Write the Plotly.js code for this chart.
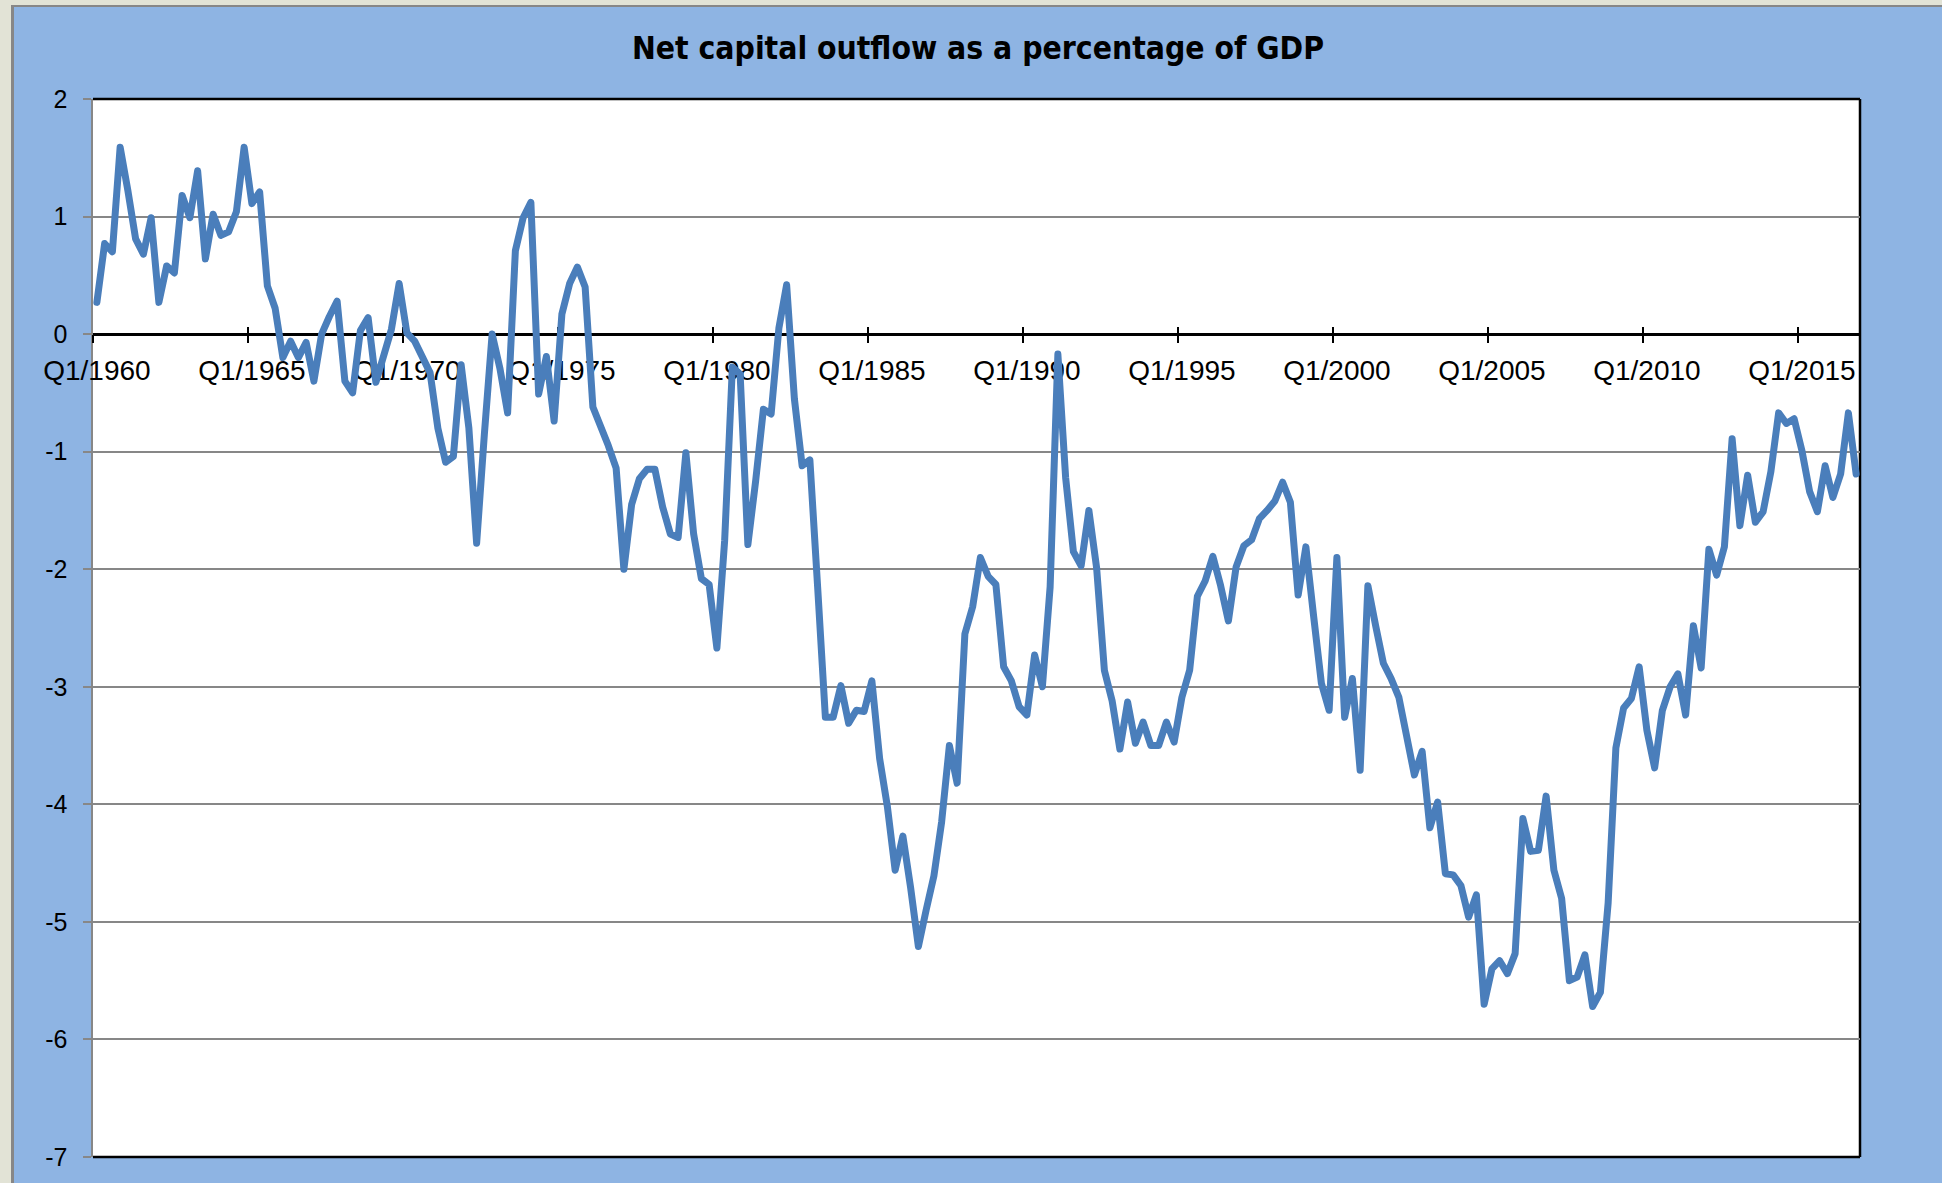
<!DOCTYPE html>
<html>
<head>
<meta charset="utf-8">
<script src="https://cdn.plot.ly/plotly-3.0.1.min.js"></script>
<style>
html, body { margin:0; padding:0; background:#E2E3D6; width:1942px; height:1183px; overflow:hidden; }
#chart { position:absolute; left:11px; top:5px; width:1928px; height:1176px;
         border-left:3px solid #878787; border-top:2px solid #878787; }
path.js-line { stroke-linejoin:round !important; stroke-linecap:round !important; }
</style>
</head>
<body>
<div id="chart"></div>
<script>
// ---- data (quarterly, Q1/1960 .. Q4/2016) ----
const firstYear = 1960;
const lastYear = 2016;
const quarters = [];
for (let yr = firstYear; yr <= lastYear; yr++) {
  for (let q = 1; q <= 4; q++) quarters.push('Q' + q + '/' + yr);
}

const outflowPct = [
  0.27, 0.77, 0.70, 1.59, 1.22, 0.81, 0.68, 0.99, 0.27, 0.58,
  0.52, 1.18, 0.99, 1.39, 0.64, 1.02, 0.84, 0.87, 1.04, 1.59,
  1.11, 1.21, 0.41, 0.22, -0.20, -0.06, -0.20, -0.07, -0.40, 0.00,
  0.15, 0.28, -0.40, -0.50, 0.03, 0.14, -0.41, -0.17, 0.04, 0.43,
  0.01, -0.06, -0.20, -0.33, -0.80, -1.09, -1.04, -0.26, -0.80, -1.78,
  -0.85, 0.00, -0.29, -0.67, 0.71, 0.99, 1.12, -0.51, -0.19, -0.74,
  0.17, 0.43, 0.57, 0.40, -0.62, -0.77, -0.95, -1.14, -2.00, -1.45,
  -1.23, -1.15, -1.15, -1.47, -1.70, -1.73, -1.01, -1.70, -2.08, -2.13,
  -2.67, -1.76, -0.28, -0.34, -1.79, -1.25, -0.64, -0.68, 0.05, 0.42,
  -0.55, -1.12, -1.07, -2.15, -3.26, -3.26, -2.99, -3.31, -3.20, -3.21,
  -2.95, -3.61, -4.02, -4.56, -4.27, -4.71, -5.21, -4.90, -4.61, -4.15,
  -3.50, -3.82, -2.55, -2.32, -1.90, -2.06, -2.13, -2.83, -2.95, -3.17,
  -3.24, -2.73, -3.00, -2.15, -0.17, -1.22, -1.85, -1.97, -1.50, -1.99,
  -2.86, -3.12, -3.53, -3.13, -3.48, -3.30, -3.50, -3.50, -3.30, -3.47,
  -3.09, -2.86, -2.23, -2.10, -1.89, -2.14, -2.44, -1.98, -1.80, -1.75,
  -1.57, -1.50, -1.42, -1.26, -1.43, -2.22, -1.81, -2.40, -2.97, -3.20,
  -1.90, -3.26, -2.93, -3.71, -2.14, -2.48, -2.80, -2.93, -3.09, -3.42,
  -3.75, -3.55, -4.20, -3.98, -4.59, -4.60, -4.69, -4.96, -4.77, -5.70,
  -5.40, -5.33, -5.44, -5.27, -4.12, -4.40, -4.39, -3.93, -4.56, -4.80,
  -5.50, -5.47, -5.28, -5.72, -5.60, -4.84, -3.52, -3.18, -3.10, -2.83,
  -3.37, -3.69, -3.20, -3.00, -2.89, -3.24, -2.48, -2.84, -1.83, -2.05,
  -1.81, -0.89, -1.63, -1.20, -1.60, -1.51, -1.17, -0.67, -0.76, -0.72,
  -0.99, -1.34, -1.51, -1.12, -1.39, -1.19, -0.67, -1.19
];

const tickLabels = ['Q1/1960','Q1/1965','Q1/1970','Q1/1975','Q1/1980','Q1/1985',
                    'Q1/1990','Q1/1995','Q1/2000','Q1/2005','Q1/2010','Q1/2015'];
const yTicks = [-7, -6, -5, -4, -3, -2, -1, 0, 1, 2];
const chartTitle = 'Net capital outflow as a percentage of GDP';

// ---- layout helpers ----
const nCat = quarters.length;
const xRange = [-0.5, nCat - 0.5];
const tickBoundaries = tickLabels.map(l => quarters.indexOf(l) - 0.5);
const yRange = [-7, 2];
const zeroPos = (0 - yRange[0]) / (yRange[1] - yRange[0]);

const yLabelFont = { family: 'Liberation Sans, Arial, sans-serif', size: 25, color: '#000' };
const xLabelFont = { family: 'Liberation Sans, Arial, sans-serif', size: 28, color: '#000' };

const trace = {
  type: 'scatter', mode: 'lines',
  x: quarters, y: outflowPct,
  xaxis: 'x', yaxis: 'y',
  line: { color: '#4A7EBB', width: 7 },
  hoverinfo: 'x+y'
};
// empty traces only register the tick-mark axes (they draw nothing)
const tickHolder2 = { type: 'scatter', mode: 'lines', x: [], y: [], xaxis: 'x2', yaxis: 'y', hoverinfo: 'skip', showlegend: false };
const tickHolder3 = { type: 'scatter', mode: 'lines', x: [], y: [], xaxis: 'x3', yaxis: 'y', hoverinfo: 'skip', showlegend: false };

const tickAxisBase = {
  overlaying: 'x', type: 'linear', range: xRange,
  anchor: 'free', position: zeroPos,
  tickmode: 'array', tickvals: tickBoundaries,
  tickcolor: '#000', tickwidth: 2,
  showticklabels: false, showline: false, showgrid: false, zeroline: false,
  layer: 'below traces', fixedrange: true
};

const layout = {
  width: 1928, height: 1176,
  margin: { l: 79, r: 82, t: 92, b: 26, pad: 0 },
  paper_bgcolor: '#8EB4E3',
  plot_bgcolor: '#FFFFFF',
  showlegend: false,
  title: {
    text: chartTitle,
    font: { family: 'DejaVu Sans Condensed, DejaVu Sans, sans-serif', size: 31.6, weight: 'bold', color: '#000' },
    x: 0.5, xref: 'container', xanchor: 'center',
    y: 1 - 40.5 / 1176, yref: 'container', yanchor: 'middle'
  },
  xaxis: {
    type: 'category', categoryorder: 'array', categoryarray: quarters,
    range: xRange, domain: [0, 1],
    anchor: 'free', position: zeroPos,
    showline: true, linecolor: '#000', linewidth: 2.5,
    ticks: '', tickmode: 'array', tickvals: tickLabels, ticktext: tickLabels,
    tickangle: 0, tickfont: xLabelFont, ticklabelstandoff: 11,
    showgrid: false, zeroline: false, layer: 'below traces', fixedrange: true
  },
  xaxis2: Object.assign({}, tickAxisBase, { ticks: 'outside', ticklen: 8 }),
  xaxis3: Object.assign({}, tickAxisBase, { ticks: 'inside', ticklen: 7 }),
  yaxis: {
    range: yRange, domain: [0, 1],
    tickmode: 'array', tickvals: yTicks, ticktext: yTicks.map(String),
    showgrid: true, gridcolor: '#878787', gridwidth: 2,
    showline: true, linecolor: '#878787', linewidth: 2.5,
    ticks: 'outside', ticklen: 8, tickwidth: 2, tickcolor: '#878787',
    tickfont: yLabelFont, ticklabelstandoff: 10,
    zeroline: false, layer: 'below traces', fixedrange: true
  },
  shapes: [
    { type: 'line', xref: 'paper', yref: 'paper', x0: 0, x1: 1, y0: 1, y1: 1, line: { color: '#000', width: 2.5 }, layer: 'between' },
    { type: 'line', xref: 'paper', yref: 'paper', x0: 1, x1: 1, y0: 0, y1: 1, line: { color: '#000', width: 2.5 }, layer: 'between' },
    { type: 'line', xref: 'paper', yref: 'paper', x0: 0, x1: 1, y0: 0, y1: 0, line: { color: '#000', width: 2.5 }, layer: 'between' }
  ]
};

Plotly.newPlot('chart', [trace, tickHolder2, tickHolder3], layout, { displayModeBar: false, staticPlot: true });
</script>
</body>
</html>
